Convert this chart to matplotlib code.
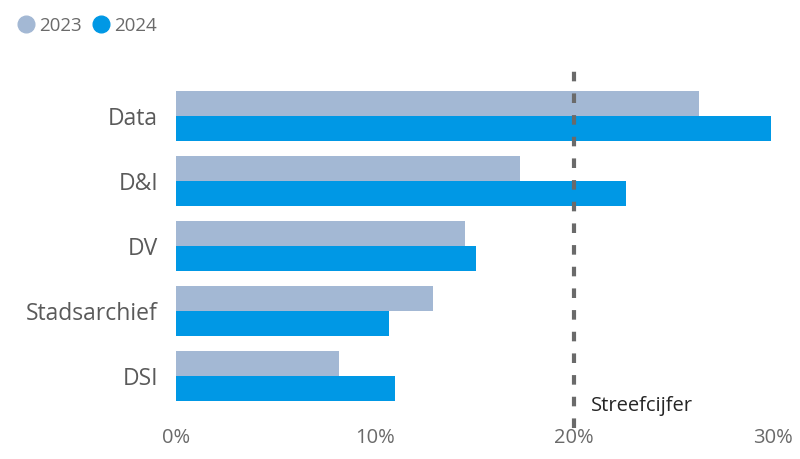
import matplotlib
matplotlib.use("Agg")
import matplotlib.pyplot as plt
from matplotlib.lines import Line2D
import matplotlib.transforms as mtransforms
import numpy as np

categories = ["Data", "D&I", "DV", "Stadsarchief", "DSI"]
values_2023 = [26.3, 17.3, 14.5, 12.9, 8.2]
values_2024 = [29.9, 22.6, 15.1, 10.7, 11.0]
series_names = ["2023", "2024"]
target = 20
target_label = "Streefcijfer"
xticks = [0, 10, 20, 30]
xtick_labels = ["0%", "10%", "20%", "30%"]

col_2023 = "#a3b8d4"
col_2024 = "#0098e5"

plt.rcParams['font.family'] = ['Open Sans', 'DejaVu Sans']

fig = plt.figure(figsize=(8, 4.59), dpi=100)
ax = fig.add_axes([176/800, 31/459, (773-176)/800, 365/459])

y = np.arange(len(categories))
h = 0.385
ax.barh(y - h/2, values_2023, height=h, color=col_2023)
ax.barh(y + h/2, values_2024, height=h, color=col_2024)

ax.set_xlim(0, 30)
ax.set_ylim(4.8, -0.815)

ax.axvline(target, color="#6a6a6a", lw=3, dashes=(2.3, 2.9), zorder=3)
trans = mtransforms.blended_transform_factory(ax.transData, ax.transAxes)
ax.annotate(target_label, xy=(target, 0.06), xycoords=trans,
            xytext=(12, 0), textcoords="offset points",
            ha="left", va="center", fontsize=14.5, color="#252525")

for s in ax.spines.values():
    s.set_visible(False)
ax.set_yticks(y)
ax.set_yticklabels(categories, fontsize=16.5, color="#5a5a5a")
ax.set_xticks(xticks)
ax.set_xticklabels(xtick_labels, fontsize=14.5, color="#6a6a6a")
ax.tick_params(axis="y", length=0, pad=13)
ax.tick_params(axis="x", length=0, pad=0)

handles = [Line2D([], [], marker="o", linestyle="", markersize=12, color=col_2023),
           Line2D([], [], marker="o", linestyle="", markersize=12, color=col_2024)]
leg = fig.legend(handles, series_names, loc="upper left", bbox_to_anchor=(0.0, 1.0),
                 ncol=2, frameon=False, handletextpad=0.2, columnspacing=0.5,
                 handlelength=1.0, borderaxespad=0.5, fontsize=13.5)
for t in leg.get_texts():
    t.set_color("#6a6a6a")

fig.savefig("out.png", dpi=100)
